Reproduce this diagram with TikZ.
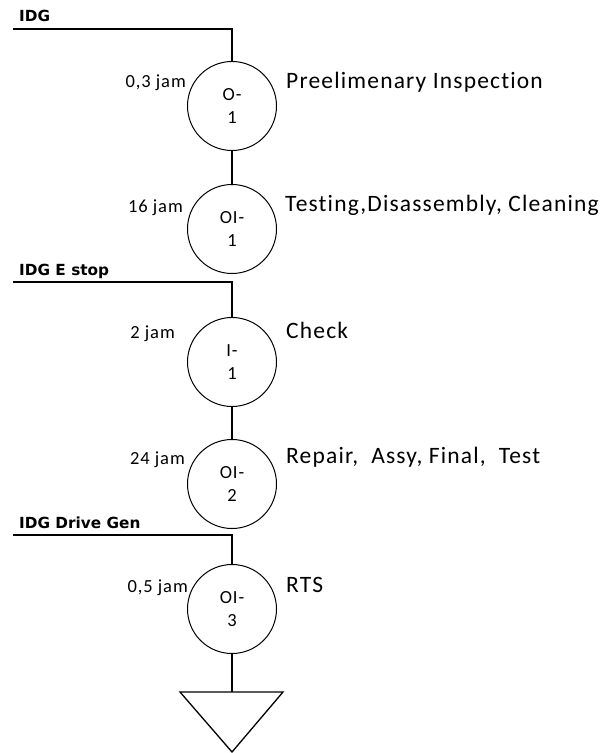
\documentclass[tikz,border=0pt]{standalone}
\usepackage{fontspec}
\setmainfont{Carlito}[LetterSpace=5, Ligatures=NoCommon]
\newfontfamily\partfont{DejaVu Sans}

\tikzset{
  op/.style={circle, draw, line width=1bp, minimum size=89bp, inner sep=0pt,
    align=center, font=\fontsize{18.5bp}{23bp}\selectfont},
  flow/.style={line width=1.8bp},
  task/.style={anchor=base west, inner sep=0pt, font=\fontsize{23.5bp}{28bp}\selectfont},
  dur/.style={anchor=base east, inner sep=0pt, font=\fontsize{18.5bp}{22bp}\selectfont},
  part/.style={anchor=base west, inner sep=0pt, font=\partfont\fontsize{15.3bp}{18bp}\selectfont\bfseries},
}

\begin{document}
\begin{tikzpicture}[x=1bp, y=-1bp]
  \useasboundingbox (0,0) rectangle (605,753);

  % incoming parts
  \coordinate (idg) at (13,29);
  \coordinate (estop) at (13,282);
  \coordinate (drive) at (13,535);
  \node[part] (idg_lbl) at (19,22) {IDG};
  \node[part] (estop_lbl) at (19,275) {IDG E stop};
  \node[part] (drive_lbl) at (19,528) {IDG Drive Gen};

  % operations
  \node[op] (o1) at (232,106) {O-\\1};
  \node[op] (oi1) at (232,229) {OI-\\1};
  \node[op] (i1) at (232,362) {I-\\1};
  \node[op] (oi2) at (232,484) {OI-\\2};
  \node[op] (oi3) at (232,609) {OI-\\3};

  % durations
  \node[dur] (t_o1) at (186,87) {0,3 jam};
  \node[dur] (t_oi1) at (183,212) {16 jam};
  \node[dur] (t_i1) at (175,338) {2 jam};
  \node[dur] (t_oi2) at (185,464) {24 jam};
  \node[dur] (t_oi3) at (188,592) {0,5 jam};

  % activities
  \node[task] (a_o1) at (286,88) {Preelimenary Inspection};
  \node[task] (a_oi1) at (285,211) {Testing,Disassembly, Cleaning};
  \node[task] (a_i1) at (286,338) {Check};
  \node[task] (a_oi2) at (286,463) {Repair,~ Assy, Final,~ Test};
  \node[task] (a_oi3) at (286,592) {RTS};

  % storage
  \coordinate (store) at (232,692);
  \draw[line width=1.3bp] (180,692) -- (283,692) -- (232,752) -- cycle;

  \draw[flow] (idg) -| (o1);
  \draw[flow] (o1) -- (oi1);
  \draw[flow] (estop) -| (i1);
  \draw[flow] (i1) -- (oi2);
  \draw[flow] (drive) -| (oi3);
  \draw[flow] (oi3) -- (store);
\end{tikzpicture}
\end{document}
